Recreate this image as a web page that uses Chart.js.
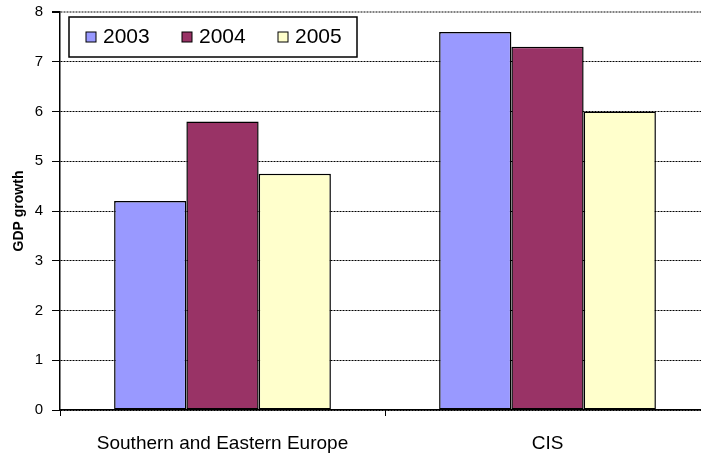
<!DOCTYPE html>
<html>
<head>
<meta charset="utf-8">
<script src="https://cdn.jsdelivr.net/npm/chart.js@4"></script>
<style>
  html, body { margin: 0; padding: 0; background: #fff; overflow: hidden; }
  #wrap { width: 712px; height: 454px; }
</style>
</head>
<body>
<div id="wrap"><canvas id="gdpChart"></canvas></div>
<script>
const regions = ['Southern and Eastern Europe', 'CIS'];
const years = ['2003', '2004', '2005'];
const growth2003 = [4.2, 7.6];
const growth2004 = [5.8, 7.3];
const growth2005 = [4.75, 6.0];
const yTicks = [0, 1, 2, 3, 4, 5, 6, 7, 8];

const colors = ['#9999ff', '#993366', '#ffffcc'];
const series = [growth2003, growth2004, growth2005];
const fontFamily = 'Arial, "Liberation Sans", sans-serif';

// legend box drawn inside the plot, top left
const boxLegend = {
  id: 'boxLegend',
  afterDraw(chart) {
    const ctx = chart.ctx;
    const area = chart.chartArea;
    const x = area.left + 9, y = area.top + 5;
    ctx.save();
    ctx.fillStyle = '#fff';
    ctx.fillRect(x, y, 288, 40);
    ctx.strokeStyle = '#000';
    ctx.lineWidth = 1.5;
    ctx.strokeRect(x, y, 288, 40);
    ctx.font = '21px ' + fontFamily;
    ctx.textBaseline = 'middle';
    chart.data.datasets.forEach((ds, i) => {
      const bx = x + 17 + i * 96;
      const by = y + 15;
      ctx.fillStyle = ds.backgroundColor;
      ctx.fillRect(bx, by, 10, 10);
      ctx.lineWidth = 1;
      ctx.strokeStyle = '#000';
      ctx.strokeRect(bx, by, 10, 10);
      ctx.fillStyle = '#000';
      ctx.fillText(ds.label, bx + 17, y + 20);
    });
    ctx.restore();
  }
};

new Chart(document.getElementById('gdpChart'), {
  type: 'bar',
  data: {
    labels: regions,
    datasets: years.map((yr, i) => ({
      label: yr,
      data: series[i],
      backgroundColor: colors[i],
      borderColor: '#000',
      borderWidth: 1.5,
      borderSkipped: false,
      categoryPercentage: 0.667,
      barPercentage: 1
    }))
  },
  options: {
    responsive: true,
    maintainAspectRatio: false,
    animation: false,
    layout: { padding: { top: 12, right: 2, left: 0, bottom: 0 } },
    plugins: { legend: { display: false }, tooltip: { enabled: false } },
    scales: {
      x: {
        offset: true,
        grid: { offset: true, drawOnChartArea: false, drawTicks: true, tickLength: 6, color: '#000', lineWidth: 1 },
        border: { color: '#000', width: 1.5 },
        ticks: { color: '#000', padding: 16, maxRotation: 0, font: { family: fontFamily, size: 19 } },
        afterFit(scale) { scale.height = 44; scale.paddingLeft = 0; scale.paddingRight = 0; }
      },
      y: {
        min: 0,
        max: 8,
        afterBuildTicks(scale) { scale.ticks = yTicks.map(v => ({ value: v })); },
        grid: {
          color: ctx => ctx.tick && ctx.tick.value === 8 ? '#808080' : '#000',
          lineWidth: ctx => ctx.tick && ctx.tick.value === 8 ? 2 : 1,
          tickLength: 8,
          tickColor: '#000',
          tickBorderDash: []
        },
        border: { color: '#000', width: 1.5, dash: [2, 1] },
        ticks: { color: '#000', padding: 9, font: { family: fontFamily, size: 15 } },
        title: {
          display: true,
          text: 'GDP growth',
          color: '#000',
          padding: { top: 11, bottom: 0 },
          font: { family: fontFamily, size: 14, weight: 'bold' }
        },
        afterFit(scale) { scale.width = 60; scale.paddingTop = 0; scale.paddingBottom = 0; }
      }
    }
  },
  plugins: [boxLegend]
});
</script>
</body>
</html>
